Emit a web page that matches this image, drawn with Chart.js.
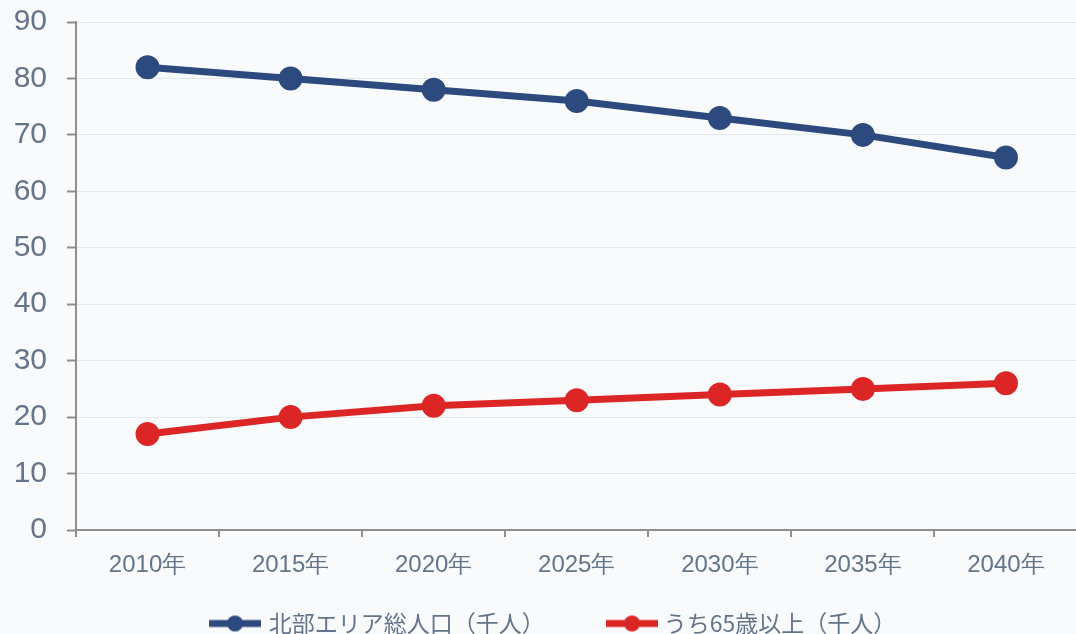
<!DOCTYPE html>
<html><head><meta charset="utf-8">
<script src="https://cdn.jsdelivr.net/npm/chart.js@4/dist/chart.umd.min.js"></script>
<style>html,body{margin:0;padding:0;background:#f8fafc;overflow:hidden;}#wrap{width:1076px;height:634px;position:relative;overflow:hidden;}canvas{display:block;}</style>
</head><body><div id="wrap"><canvas id="c" width="1093" height="634"></canvas></div>
<script>
const categories = ['2010年','2015年','2020年','2025年','2030年','2035年','2040年'];
const totalPop = [82, 80, 78, 76, 73, 70, 66];
const elderly = [17, 20, 22, 23, 24, 25, 26];
const seriesNames = ['北部エリア総人口（千人）','うち65歳以上（千人）'];
const yTicks = [0,10,20,30,40,50,60,70,80,90];

const colors = ['#2c4a7e', '#dc2626'];
function legendIcon(color, shift){
  const cv = document.createElement('canvas');
  cv.width = 52 + 2 * shift; cv.height = 18;
  const g = cv.getContext('2d');
  const x0 = 2 * shift;
  g.strokeStyle = color; g.lineWidth = 7;
  g.beginPath(); g.moveTo(x0, 9); g.lineTo(x0 + 52, 9); g.stroke();
  g.fillStyle = color; g.beginPath(); g.arc(x0 + 26, 9, 8, 0, Math.PI * 2); g.fill();
  return cv;
}
const icons = [legendIcon(colors[0], 8), legendIcon(colors[1], 10)];
const legendGap = ['\u3000   ', ''];

new Chart(document.getElementById('c'), {
  type: 'line',
  data: {
    labels: categories,
    datasets: [
      {label: seriesNames[0], data: totalPop, borderColor: colors[0], backgroundColor: colors[0], borderWidth: 7, pointRadius: 8.5, pointHoverRadius: 8.5, tension: 0},
      {label: seriesNames[1], data: elderly, borderColor: colors[1], backgroundColor: colors[1], borderWidth: 7, pointRadius: 8.5, pointHoverRadius: 8.5, tension: 0}
    ]
  },
  options: {
    responsive: false,
    animation: false,
    layout: {padding: 0},
    plugins: {
      tooltip: {enabled: false},
      legend: {
        position: 'bottom',
        maxHeight: 42,
        labels: {
          usePointStyle: true,
          pointStyleWidth: 60.5,
          font: {family: '"Noto Sans CJK JP", "Noto Sans", sans-serif', size: 23},
          color: '#64748b',
          padding: 20,
          generateLabels: (chart) => chart.data.datasets.map((ds, i) => ({
            text: ds.label + legendGap[i], pointStyle: icons[i], fillStyle: colors[i], strokeStyle: colors[i],
            lineWidth: 0, hidden: false, datasetIndex: i, fontColor: '#64748b'
          }))
        }
      }
    },
    scales: {
      x: {
        offset: true,
        afterFit: (s) => { s.height = 62; s.paddingLeft = 0; s.paddingRight = 0; },
        grid: {display: true, drawOnChartArea: false, drawTicks: true, tickLength: 7, color: '#8e8e8e', lineWidth: 2, offset: true},
        border: {display: true, color: '#8e8e8e', width: 2},
        ticks: {color: '#64748b', font: {family: '"Liberation Sans", Arial, sans-serif', size: 24}, padding: 14}
      },
      y: {
        min: 0, max: 90,
        afterFit: (s) => { s.width = 76; s.paddingTop = 22; s.paddingBottom = 0; },
        afterBuildTicks: (axis) => { axis.ticks = yTicks.map(v => ({value: v})); },
        grid: {color: '#e2e8f0', lineWidth: 1, tickLength: 9, tickColor: '#8e8e8e', tickWidth: 2},
        border: {display: true, color: '#8e8e8e', width: 2},
        ticks: {color: '#64748b', font: {family: '"Liberation Sans", Arial, sans-serif', size: 30}, padding: 20}
      }
    }
  }
});
</script></body></html>
